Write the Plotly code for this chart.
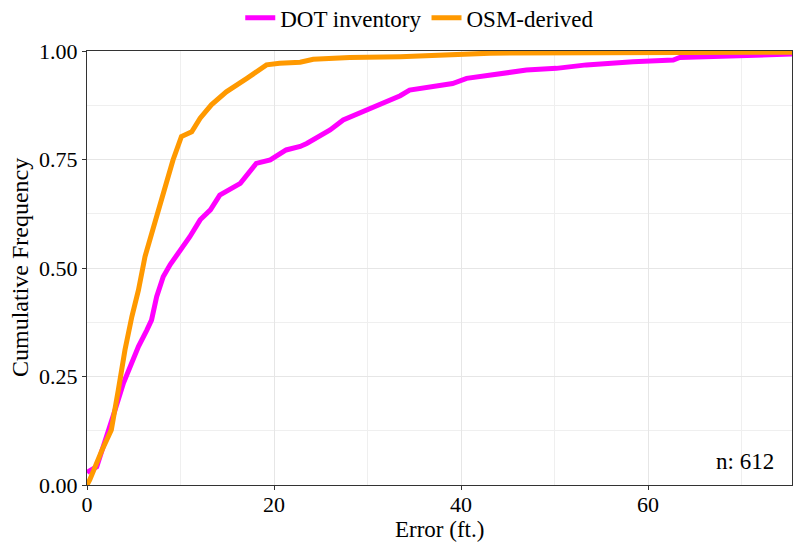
import plotly.graph_objects as go

# Empirical cumulative distribution of positional error (ft.) for each source
dot_error = [0.0, 0.14, 1.04, 1.9, 3.0, 3.9, 4.6, 5.5, 6.4, 6.9, 7.45, 8.15, 8.9, 9.6,
             10.3, 11.0, 12.1, 13.2, 14.2, 16.4, 18.1, 19.6, 21.3, 22.8, 23.5, 26.0,
             27.4, 29.9, 33.5, 34.5, 36.7, 39.1, 40.6, 43.4, 47.0, 50.2, 53.4, 58.4,
             62.7, 63.4, 67.3, 70.9, 74.5, 75.4]
dot_cum = [0.028, 0.031, 0.042, 0.097, 0.173, 0.235, 0.273, 0.319, 0.357, 0.38, 0.434,
           0.48, 0.508, 0.53, 0.549, 0.572, 0.611, 0.634, 0.668, 0.695, 0.741, 0.749,
           0.772, 0.78, 0.787, 0.818, 0.841, 0.864, 0.897, 0.91, 0.918, 0.925, 0.937,
           0.945, 0.956, 0.96, 0.968, 0.975, 0.979, 0.985, 0.987, 0.988, 0.992, 0.993]

osm_error = [0.0, 0.3, 1.6, 2.6, 3.35, 4.06, 4.8, 5.5, 6.2, 7.45, 8.5, 9.2, 10.1, 11.2,
             12.1, 13.3, 14.9, 17.1, 19.2, 20.6, 22.8, 24.2, 28.1, 33.5, 38.8, 43.1,
             55.0, 75.4]
osm_cum = [0.0, 0.012, 0.08, 0.127, 0.219, 0.311, 0.388, 0.449, 0.526, 0.614, 0.697,
           0.749, 0.803, 0.814, 0.845, 0.876, 0.906, 0.937, 0.968, 0.972, 0.974, 0.981,
           0.985, 0.987, 0.99, 0.995, 0.996, 0.997]

series_names = ["DOT inventory", "OSM-derived"]
series_colors = ["#FF00FF", "#FF9900"]
x_ticks = [0, 20, 40, 60]
y_ticks = [0.0, 0.25, 0.5, 0.75, 1.0]
x_title = "Error (ft.)"
y_title = "Cumulative Frequency"
sample_label = "n: 612"

FONT = "Liberation Serif, Times New Roman, serif"

fig = go.Figure()
for name, xs, ys, col in zip(series_names, [dot_error, osm_error], [dot_cum, osm_cum], series_colors):
    fig.add_trace(go.Scatter(x=xs, y=ys, mode="lines", name=name,
                             line=dict(color=col, width=5)))

axis_common = dict(
    showline=True, linecolor="#333333", linewidth=1, mirror=True,
    ticks="outside", ticklen=4, tickcolor="#333333", tickwidth=1,
    showgrid=True, gridcolor="#E6E6E6", gridwidth=1, zeroline=False,
    tickfont=dict(family=FONT, size=22, color="black"),
    automargin=False,
)

fig.update_xaxes(range=[0, 75.4], tickvals=x_ticks, ticklabelstandoff=-4,
                 minor=dict(dtick=10, showgrid=True, gridcolor="#EFEFEF"),
                 **axis_common)
fig.update_yaxes(range=[0, 1], tickvals=y_ticks, tickformat=".2f",
                 minor=dict(dtick=0.125, showgrid=True, gridcolor="#EFEFEF"),
                 **axis_common)

# Axis titles placed relative to the plotting area
fig.add_annotation(xref="paper", yref="paper", x=0.5, y=-0.103, text=x_title,
                   showarrow=False, xanchor="center", yanchor="middle",
                   font=dict(family=FONT, size=23, color="black"))
fig.add_annotation(xref="paper", yref="paper", x=-0.095, y=0.5, text=y_title,
                   showarrow=False, xanchor="center", yanchor="middle", textangle=-90,
                   font=dict(family=FONT, size=24, color="black"))

fig.add_annotation(x=73.7, y=0.054, text=sample_label, showarrow=False,
                   xanchor="right", yanchor="middle",
                   font=dict(family=FONT, size=23, color="black"))

fig.update_layout(
    width=795, height=542,
    margin=dict(l=87, r=3, t=51, b=57, autoexpand=False),
    paper_bgcolor="white", plot_bgcolor="white",
    font=dict(family=FONT, color="black"),
    legend=dict(orientation="h", x=0.472, xanchor="center",
                yref="container", y=0.967, yanchor="middle",
                font=dict(family=FONT, size=23, color="black"),
                itemwidth=30, bgcolor="rgba(0,0,0,0)"),
)

fig.write_html("out.html")
